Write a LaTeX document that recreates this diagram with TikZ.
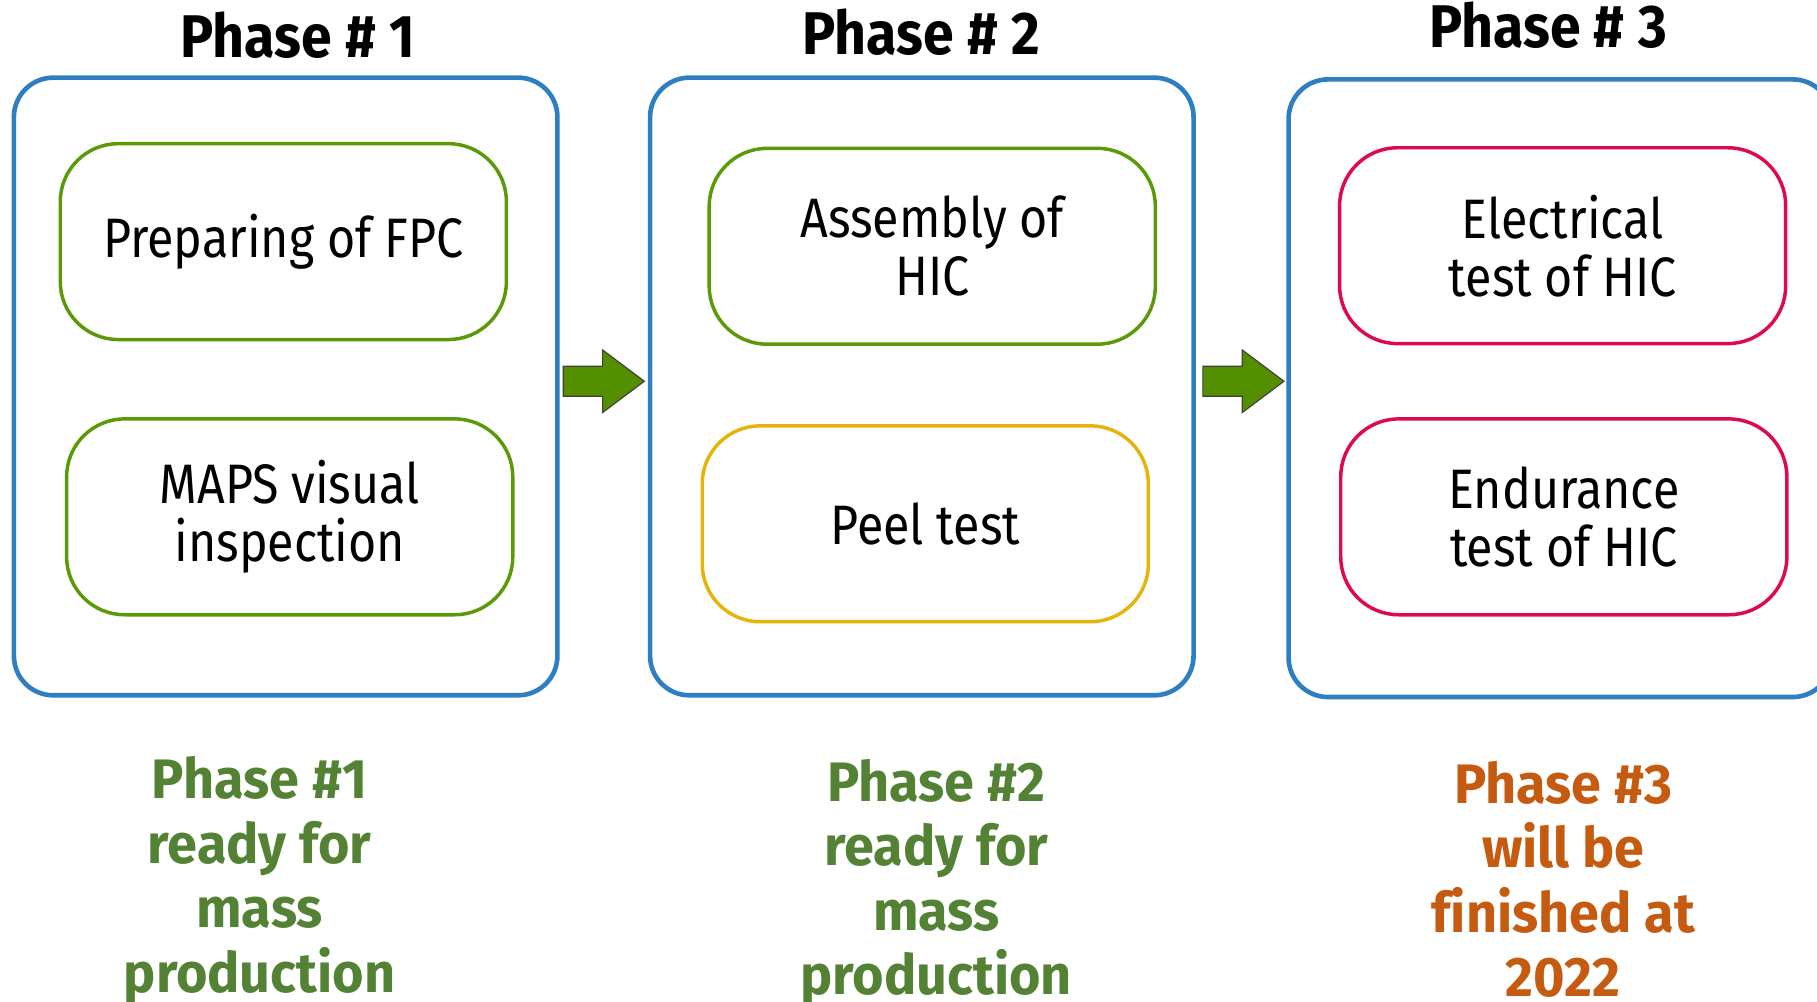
\documentclass[tikz,border=0pt]{standalone}
\usepackage{fontspec}
\setmainfont{Fira Sans}[FakeStretch=0.87]
\newfontfamily\headfont{Fira Sans}[FakeStretch=0.92, Ligatures=CommonOff]
\newfontfamily\statusfont{Fira Sans}[FakeStretch=0.97, Ligatures=CommonOff]
\definecolor{boxblue}{HTML}{2E7FC2}
\definecolor{stepgreen}{HTML}{5A9A08}
\definecolor{stepyellow}{HTML}{E6B30A}
\definecolor{stepred}{HTML}{DD0B4E}
\definecolor{arrowgreen}{HTML}{548F00}
\definecolor{readygreen}{HTML}{548235}
\definecolor{laterorange}{HTML}{C55A11}
\tikzset{
  phasebox/.style={draw=boxblue, line width=2pt, rounded corners=17pt,
    minimum width=234.5pt, minimum height=266.5pt, inner sep=0pt},
  stepbox/.style={line width=1.5pt, rounded corners=25pt,
    minimum width=192.5pt, minimum height=84.5pt, inner sep=0pt,
    align=center, font=\fontsize{24}{25}\selectfont},
  phasetitle/.style={font=\headfont\bfseries\fontsize{26}{28}\selectfont},
  status/.style={align=center, font=\statusfont\bfseries\fontsize{24}{27.8}\selectfont},
  flowarrow/.style={fill=arrowgreen, draw=black!75, line width=0.5pt},
}
\begin{document}
\begin{tikzpicture}[x=0.5pt,y=-0.5pt]
\useasboundingbox (0,0) rectangle (1568,864);
% titles
\node[phasetitle] (t1) at (257,30) {Phase \# 1};
\node[phasetitle] (t2) at (795,28) {Phase \# 2};
\node[phasetitle] (t3) at (1336,22) {Phase \# 3};
% phase boxes
\node[phasebox] (p1) at (246.5,333.5) {};
\node[phasebox] (p2) at (795.5,333.5) {};
\node[phasebox] (p3) at (1346.5,335) {};
% steps
\node[stepbox, draw=stepgreen] (s1a) at (244.5,208.5) {Preparing of FPC};
\node[stepbox, draw=stepgreen] (s1b) at (250,446) {MAPS visual\\inspection};
\node[stepbox, draw=stepgreen] (s2a) at (804.5,212.5) {Assembly of\\HIC};
\node[stepbox, draw=stepyellow] (s2b) at (798.5,452) {Peel test};
\node[stepbox, draw=stepred] (s3a) at (1348.5,212) {Electrical\\test of HIC};
\node[stepbox, draw=stepred] (s3b) at (1349.5,446) {Endurance\\test of HIC};
% arrows
\coordinate (a1) at (486,329);
\coordinate (a2) at (1038,329);
\foreach \a in {a1,a2}{
  \draw[flowarrow] (\a) ++(0,-13) -- ++(34,0) -- ++(0,-14) -- ++(36,27)
     -- ++(-36,27) -- ++(0,-14) -- ++(-34,0) -- cycle;
}
% status
\node[status, text=readygreen] (r1) at (224,760) {Phase \#1\\ready for\\mass\\production};
\node[status, text=readygreen] (r2) at (808,762) {Phase \#2\\ready for\\mass\\production};
\node[status, text=laterorange] (r3) at (1349,759) {Phase \#3\\will be\\finished at\\2022};
\end{tikzpicture}
\end{document}
